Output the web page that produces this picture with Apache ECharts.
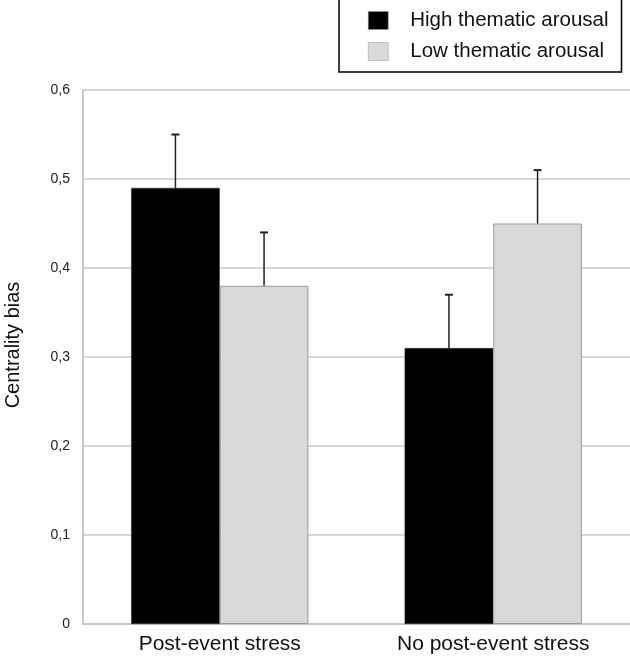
<!DOCTYPE html>
<html><head><meta charset="utf-8">
<script src="https://cdn.jsdelivr.net/npm/echarts@6/dist/echarts.min.js"></script>
<style>html,body{margin:0;padding:0;background:#fff}#c{width:630px;height:659px}</style>
</head><body><div id="c"></div>
<script>
var categories = ['Post-event stress', 'No post-event stress'];
var seriesNames = ['High thematic arousal', 'Low thematic arousal'];
var highValues = [0.49, 0.31];
var lowValues = [0.38, 0.45];
var highErrTop = [0.55, 0.37];
var lowErrTop = [0.44, 0.51];
var yTicks = [0, 0.1, 0.2, 0.3, 0.4, 0.5, 0.6];

var FONT = '"Liberation Sans", Arial, Helvetica, sans-serif';
var BAR_FRAC = 0.324;

function errSeries(vals, tops, side) {
  return {
    type: 'custom',
    z: 5,
    silent: true,
    data: vals.map(function (v, i) { return [i, v, tops[i]]; }),
    renderItem: function (params, api) {
      var i = api.value(0);
      var catW = api.size([1, 0])[0];
      var off = side * catW * BAR_FRAC / 2;
      var p0 = api.coord([i, api.value(1)]);
      var p1 = api.coord([i, api.value(2)]);
      var x = p0[0] + off;
      var st = { stroke: '#222', lineWidth: 1.5 };
      return {
        type: 'group',
        children: [
          { type: 'line', shape: { x1: x, y1: p0[1], x2: x, y2: p1[1] }, style: st },
          { type: 'line', shape: { x1: x - 4, y1: p1[1], x2: x + 4, y2: p1[1] }, style: { stroke: '#222', lineWidth: 2 } }
        ]
      };
    }
  };
}

var chart = echarts.init(document.getElementById('c'));
chart.setOption({
  animation: false,
  textStyle: { fontFamily: FONT },
  grid: { left: 83, right: 0, top: 90, bottom: 35, containLabel: false, outerBoundsMode: 'none' },
  legend: {
    data: seriesNames,
    orient: 'vertical',
    left: 339,
    top: -1,
    padding: [11, 13, 10, 29],
    icon: 'rect',
    itemWidth: 20,
    itemHeight: 18,
    itemGap: 10,
    borderColor: '#000',
    borderWidth: 1.5,
    backgroundColor: '#fff',
    itemStyle: { borderColor: '#999', borderWidth: 0.5 },
    textStyle: { fontSize: 20.5, color: '#111', fontFamily: FONT, padding: [0, 0, 0, 17] }
  },
  xAxis: {
    type: 'category',
    data: categories,
    axisLine: { show: true, lineStyle: { color: '#c8c8c8', width: 2 } },
    axisTick: { show: false },
    axisLabel: { fontSize: 21, color: '#111', margin: 10, fontFamily: FONT }
  },
  yAxis: {
    type: 'value',
    min: 0, max: 0.6, interval: 0.1,
    name: 'Centrality bias',
    nameLocation: 'middle',
    nameGap: 60,
    nameTextStyle: { fontSize: 20, color: '#111', fontFamily: FONT, padding: [0, 0, 0, 24] },
    axisLine: { show: true, lineStyle: { color: '#c8c8c8', width: 2 } },
    axisTick: { show: false },
    splitLine: { show: true, lineStyle: { color: '#d6d6d6', width: 2 } },
    axisLabel: {
      fontSize: 14, color: '#222', margin: 13, fontFamily: FONT,
      formatter: function (v) {
        var t = yTicks.filter(function (k) { return Math.abs(k - v) < 1e-9; })[0];
        return t === 0 ? '0' : String(+v.toFixed(1)).replace('.', ',');
      }
    }
  },
  series: [
    {
      name: seriesNames[0], type: 'bar', data: highValues,
      barWidth: (BAR_FRAC * 100) + '%', barGap: '0%',
      itemStyle: { color: '#000', borderColor: '#333', borderWidth: 0.5 }
    },
    {
      name: seriesNames[1], type: 'bar', data: lowValues,
      barWidth: (BAR_FRAC * 100) + '%', barGap: '0%',
      itemStyle: { color: '#d9d9d9', borderColor: '#9a9a9a', borderWidth: 1 }
    },
    errSeries(highValues, highErrTop, -1),
    errSeries(lowValues, lowErrTop, 1)
  ]
});
</script></body></html>
